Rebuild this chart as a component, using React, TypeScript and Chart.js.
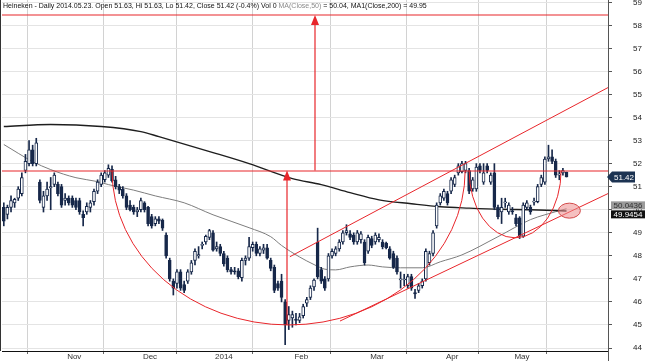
import React, { useEffect, useRef } from 'react';
import { Chart, registerables } from 'chart.js';

Chart.register(...registerables);

// ---- Daily OHLC (index 0 = 2013-10-09 ... index 156 = 2014-05-23) ----
const opens = [
  50.1, 49.8, 50.1, 50.3, 50.5, 50.7, 51.7, 52.0, 52.6, 52.0,
  51.2, 50.1, 50.6, 50.95, 51.1, 51.1, 51.0, 50.4, 50.5, 50.5,
  50.4, 50.4, 49.8, 49.9, 50.1, 50.35, 50.8, 51.1, 51.3, 51.5,
  51.75, 51.3, 51.0, 50.9, 50.6, 50.2, 50.1, 49.9, 50.0, 50.3,
  50.1, 49.7, 49.4, 49.6, 49.55, 48.9, 47.8, 46.9, 46.8, 47.3,
  46.75, 46.9, 47.3, 47.8, 48.0, 48.45, 48.6, 48.8, 49.0, 48.3,
  48.4, 48.1, 47.9, 47.4, 47.35, 47.35, 47.05, 47.8, 47.9, 48.35,
  48.5, 48.1, 48.25, 48.35, 47.8, 47.5, 46.8, 46.9, 46.0, 45.2,
  45.3, 45.25, 45.2, 45.4, 45.95, 46.2, 46.65, 48.6, 47.4, 47.0,
  47.0, 48.0, 48.1, 48.3, 48.6, 49.0, 48.95, 48.9, 48.6, 48.7,
  48.6, 48.2, 48.75, 48.6, 48.7, 48.6, 48.55, 48.3, 48.1, 47.9,
  46.95, 46.95, 46.7, 47.1, 46.4, 46.5, 46.7, 47.0, 47.7, 48.1,
  49.3, 50.3, 50.5, 50.7, 50.8, 51.1, 51.6, 51.65, 51.7, 51.7,
  50.9, 50.9, 51.9, 51.2, 51.9, 51.2, 51.6, 50.1, 49.9, 50.3,
  49.9, 49.95, 49.65, 49.65, 48.85, 50.1, 50.1, 50.33, 50.35, 51.1,
  51.2, 52.2, 52.3, 52.1, 51.5, 51.6, 51.63,
];
const highs = [
  50.3, 50.2, 50.6, 50.5, 51.0, 51.6, 52.4, 53.0, 52.8, 53.1,
  51.3, 50.8, 51.2, 51.4, 51.6, 51.2, 51.1, 50.7, 50.6, 50.6,
  50.5, 50.5, 49.95, 50.3, 50.4, 50.9, 51.3, 51.6, 51.7, 51.95,
  51.9, 51.45, 51.1, 51.0, 50.7, 50.4, 50.2, 50.1, 50.5, 50.35,
  50.15, 49.8, 49.7, 49.7, 49.6, 49.0, 47.9, 47.0, 47.4, 47.4,
  46.9, 47.4, 47.8, 48.3, 48.4, 48.6, 48.9, 49.15, 49.1, 48.6,
  48.5, 48.2, 48.0, 47.5, 47.5, 47.45, 47.9, 48.0, 48.8, 48.6,
  48.6, 48.4, 48.5, 48.5, 47.9, 47.6, 46.9, 47.2, 46.1, 45.8,
  45.6, 45.5, 45.5, 45.9, 46.2, 46.7, 47.0, 49.2, 47.5, 47.1,
  48.1, 48.3, 48.4, 48.7, 49.1, 49.35, 49.1, 49.0, 49.1, 49.05,
  48.7, 48.9, 48.85, 49.0, 48.95, 48.7, 48.6, 48.4, 48.2, 48.0,
  47.3, 47.2, 47.2, 47.2, 46.55, 46.8, 47.0, 48.3, 48.2, 49.1,
  50.3, 50.7, 50.9, 50.8, 51.4, 51.5, 52.0, 52.1, 52.1, 51.8,
  51.4, 52.0, 52.0, 52.0, 52.0, 51.6, 52.0, 50.2, 50.5, 50.5,
  50.3, 50.1, 49.8, 49.7, 50.3, 50.4, 50.2, 50.5, 51.1, 51.5,
  52.3, 52.8, 52.6, 52.2, 51.7, 51.8, 51.63,
];
const lows = [
  49.3, 49.6, 49.9, 50.1, 50.4, 50.6, 51.6, 51.9, 51.9, 51.9,
  50.3, 49.9, 50.4, 50.0, 51.0, 50.6, 50.1, 50.2, 50.2, 50.1,
  50.0, 49.8, 49.3, 49.8, 49.9, 50.2, 50.7, 51.0, 51.2, 51.4,
  51.2, 50.9, 50.7, 50.5, 50.0, 49.95, 49.8, 49.7, 49.9, 49.9,
  49.3, 49.2, 49.3, 49.4, 49.1, 47.9, 46.9, 46.3, 46.6, 46.5,
  46.4, 46.8, 47.2, 47.6, 47.9, 48.3, 48.5, 48.7, 48.2, 48.2,
  48.0, 47.55, 47.3, 47.2, 47.2, 47.0, 46.9, 47.6, 47.8, 48.2,
  48.0, 48.0, 48.1, 47.85, 47.35, 46.4, 46.5, 46.0, 44.15, 44.8,
  44.9, 45.0, 45.1, 45.3, 45.8, 46.1, 46.5, 47.0, 46.8, 46.5,
  46.9, 47.9, 48.0, 48.2, 48.5, 48.9, 48.7, 48.5, 48.5, 48.55,
  47.6, 48.1, 48.35, 48.5, 48.6, 48.3, 48.3, 47.85, 47.45, 47.2,
  46.6, 46.7, 46.6, 46.5, 46.15, 46.4, 46.6, 46.9, 47.6, 48.0,
  49.2, 50.2, 50.4, 50.2, 50.7, 51.0, 51.5, 51.6, 51.6, 50.7,
  50.8, 50.8, 51.6, 51.1, 51.6, 51.1, 50.0, 49.6, 49.4, 50.1,
  49.8, 49.8, 49.3, 48.75, 48.8, 50.0, 49.8, 50.2, 50.3, 51.0,
  51.1, 52.1, 52.0, 51.4, 51.3, 51.5, 51.42,
];
const closes = [
  49.5, 50.1, 50.4, 50.45, 50.9, 51.4, 52.1, 52.6, 52.0, 52.9,
  50.4, 50.6, 50.9, 51.0, 51.5, 50.7, 50.2, 50.5, 50.3, 50.2,
  50.1, 49.9, 49.65, 50.15, 50.3, 50.8, 51.2, 51.5, 51.6, 51.8,
  51.25, 51.0, 50.85, 50.6, 50.1, 50.0, 49.9, 50.0, 50.4, 50.0,
  49.4, 49.3, 49.6, 49.5, 49.2, 48.0, 47.0, 46.6, 47.3, 46.6,
  46.5, 47.3, 47.7, 48.2, 48.05, 48.5, 48.85, 49.1, 48.25, 48.4,
  48.1, 47.65, 47.4, 47.3, 47.3, 47.1, 47.8, 47.9, 48.4, 48.5,
  48.1, 48.3, 48.35, 47.9, 47.45, 46.5, 46.6, 46.2, 45.0, 45.45,
  45.45, 45.2, 45.35, 45.8, 46.1, 46.6, 46.95, 47.1, 46.9, 46.6,
  48.0, 48.2, 48.3, 48.6, 49.0, 49.1, 48.8, 48.6, 49.0, 48.95,
  47.7, 48.8, 48.45, 48.9, 48.8, 48.4, 48.35, 47.9, 47.5, 47.3,
  47.0, 46.95, 47.1, 46.6, 46.35, 46.7, 46.9, 48.2, 48.1, 49.0,
  50.2, 50.6, 50.8, 50.3, 51.3, 51.4, 51.9, 52.0, 52.0, 50.8,
  51.3, 51.85, 51.7, 51.6, 51.7, 51.5, 50.1, 49.7, 50.1, 50.32,
  50.2, 49.9, 49.4, 48.85, 50.2, 50.3, 49.9, 50.35, 51.0, 51.4,
  52.2, 52.3, 52.1, 51.5, 51.55, 51.7, 51.42,
];

// ---- Moving averages, read at selected trading-day indices ----
const ma50Points: [number, number][] = [
  [0, 52.83], [8, 52.09], [13, 51.74], [20, 51.39], [26, 51.22], [29, 51.09],
  [36, 50.85], [42, 50.6], [50, 50.3], [58, 49.78], [68, 49.22], [74, 48.83],
  [77, 48.45], [82, 47.95], [86, 47.62], [89, 47.42], [92, 47.39], [96, 47.52],
  [101, 47.6], [105, 47.52], [110, 47.48], [116, 47.48], [121, 47.74], [127, 48.04],
  [137, 48.83], [146, 49.57], [150, 49.78], [156, 50.0436],
];
const ma200Points: [number, number][] = [
  [0, 53.61], [13, 53.7], [27, 53.61], [38, 53.39], [43, 53.17], [58, 52.48],
  [68, 52.0], [80, 51.35], [88, 51.09], [96, 50.74], [104, 50.43], [113, 50.26],
  [121, 50.13], [129, 50.07], [138, 50.02], [146, 50.0], [156, 49.9454],
];

// ---- Axes ----
const monthTickIndex = [17, 38, 58, 80, 101, 122, 141];
const monthTickLabels = ['Nov', 'Dec', '2014', 'Feb', 'Mar', 'Apr', 'May'];
const priceTicks = [44, 45, 46, 47, 48, 49, 50, 51, 52, 53, 54, 55, 56, 57, 58, 59];
const xRange = [-0.5, 167.5];
const yRange = [43.87, 59.1];

// ---- Drawn annotations (index, price) ----
const resistanceLevel = 51.7;
const targetLevel = 58.45;
const upperChannel: [number, number][] = [[79.3, 47.96], [167.5, 55.3]];
const lowerChannel: [number, number][] = [[93.2, 45.17], [167.5, 50.7]];
const bigCup = { from: 30.0, to: 127.9, top: 51.7, bottom: 45.0 };
const smallCup = { from: 129.0, to: 154.5, top: 51.7, bottom: 48.78 };
const arrows = [
  { at: 78.5, from: 45.0, to: 51.7 },
  { at: 86.3, from: 51.7, to: 58.45 },
];
const highlight = { at: 156.8, price: 49.96 };

const lastClose = 51.42;
const ma50Last = 50.0436;
const ma200Last = 49.9454;
const titleParts = [
  { text: 'Heineken - Daily 2014.05.23. Open 51.63, Hi 51.63, Lo 51.42, Close 51.42 (-0.4%) Vol 0 ', color: '#111111' },
  { text: 'MA(Close,50)', color: '#8a8a8a' },
  { text: ' = 50.04, MA1(Close,200) = 49.95', color: '#111111' },
];

const NAVY = '#17284a';
const RED = '#e8262b';
const FONT = "'Liberation Sans', Arial, sans-serif";
const TITLE_FONT = "'Liberation Sans Narrow', 'Arial Narrow', 'Liberation Sans', Arial, sans-serif";

const overlayPlugin = {
  id: 'overlay',
  afterDatasetsDraw(chart: any) {
    const { ctx, chartArea: a, scales } = chart;
    const x = scales.x;
    const y = scales.y;
    const px = (v: number) => x.getPixelForValue(v);
    const py = (v: number) => y.getPixelForValue(v);
    ctx.save();
    ctx.beginPath();
    ctx.rect(a.left, a.top, a.right - a.left, a.bottom - a.top);
    ctx.clip();

    ctx.strokeStyle = RED;
    ctx.lineWidth = 1.2;
    [resistanceLevel, targetLevel].forEach((lv) => {
      const yy = Math.round(py(lv));
      ctx.beginPath();
      ctx.moveTo(a.left, yy);
      ctx.lineTo(a.right, yy);
      ctx.stroke();
    });
    ctx.lineWidth = 1;
    [upperChannel, lowerChannel].forEach((ln) => {
      ctx.beginPath();
      ctx.moveTo(px(ln[0][0]), py(ln[0][1]));
      ctx.lineTo(px(ln[1][0]), py(ln[1][1]));
      ctx.stroke();
    });
    [bigCup, smallCup].forEach((c) => {
      const x1 = px(c.from);
      const x2 = px(c.to);
      const yt = py(c.top);
      const yb = py(c.bottom);
      ctx.beginPath();
      ctx.ellipse((x1 + x2) / 2, yt, (x2 - x1) / 2, yb - yt, 0, 0, Math.PI);
      ctx.stroke();
    });
    ctx.fillStyle = RED;
    ctx.lineWidth = 1.2;
    arrows.forEach((ar) => {
      const xx = Math.round(px(ar.at));
      const y1 = py(ar.from);
      const y2 = py(ar.to);
      ctx.beginPath();
      ctx.moveTo(xx, y1);
      ctx.lineTo(xx, y2 + 8);
      ctx.stroke();
      ctx.beginPath();
      ctx.moveTo(xx, y2);
      ctx.lineTo(xx - 4, y2 + 10);
      ctx.lineTo(xx + 4, y2 + 10);
      ctx.closePath();
      ctx.fill();
    });
    ctx.lineWidth = 1;
    ctx.beginPath();
    ctx.ellipse(px(highlight.at), py(highlight.price), 11, 7.5, 0, 0, Math.PI * 2);
    ctx.fillStyle = 'rgba(236,140,140,0.55)';
    ctx.fill();
    ctx.strokeStyle = '#d24a4a';
    ctx.stroke();
    ctx.restore();
  },
  afterDraw(chart: any) {
    const { ctx, chartArea: a, scales } = chart;
    const y = scales.y;
    ctx.save();
    ctx.strokeStyle = '#333';
    ctx.lineWidth = 1;
    ctx.beginPath();
    ctx.moveTo(0.5, a.top);
    ctx.lineTo(0.5, a.bottom);
    ctx.stroke();
    ctx.strokeStyle = '#555';
    ctx.beginPath();
    ctx.moveTo(a.right + 0.5, 0);
    ctx.lineTo(a.right + 0.5, chart.height);
    ctx.stroke();

    // title, fitted to the reference's text width
    let fs = 8;
    ctx.font = `${fs}px ${TITLE_FONT}`;
    const full = titleParts.map((p) => p.text).join('');
    const w = ctx.measureText(full).width;
    fs = Math.min(8.6, (8 * 424) / w);
    ctx.font = `${fs}px ${TITLE_FONT}`;
    ctx.textBaseline = 'middle';
    ctx.textAlign = 'left';
    let tx = 3;
    titleParts.forEach((p) => {
      ctx.fillStyle = p.color;
      ctx.fillText(p.text, tx, 6);
      tx += ctx.measureText(p.text).width;
    });

    // price tags
    ctx.font = `8px ${FONT}`;
    ctx.textAlign = 'center';
    const bx = a.right + 3;
    const yc = y.getPixelForValue(lastClose);
    ctx.fillStyle = '#1c3352';
    ctx.beginPath();
    ctx.moveTo(a.right - 1, yc);
    ctx.lineTo(bx + 1, yc - 5.5);
    ctx.lineTo(bx + 24, yc - 5.5);
    ctx.lineTo(bx + 24, yc + 5.5);
    ctx.lineTo(bx + 1, yc + 5.5);
    ctx.closePath();
    ctx.fill();
    ctx.fillStyle = '#ffffff';
    ctx.fillText(String(lastClose.toFixed(2)), bx + 13, yc + 0.5);

    let y50 = y.getPixelForValue(ma50Last);
    let y200 = y.getPixelForValue(ma200Last);
    const h = 8;
    if (Math.abs(y200 - y50) < h) {
      const mid = (y50 + y200) / 2;
      y50 = mid - h / 2 - 0.5;
      y200 = mid + h / 2 + 0.5;
    }
    ctx.fillStyle = '#9a9a9a';
    ctx.fillRect(bx, y50 - h / 2, 645 - bx, h);
    ctx.fillStyle = '#303030';
    ctx.fillText(String(ma50Last), bx + 17, y50 + 0.5);
    ctx.fillStyle = '#111111';
    ctx.fillRect(bx, y200 - h / 2, 645 - bx, h);
    ctx.fillStyle = '#ffffff';
    ctx.fillText(String(ma200Last), bx + 17, y200 + 0.5);
    ctx.restore();
  },
};

export default function App() {
  const ref = useRef<HTMLCanvasElement>(null);
  useEffect(() => {
    if (!ref.current) return;
    const bodies = opens.map((o, i) => ({ x: i, y: [o, closes[i]] }));
    const wicks = lows.map((l, i) => ({ x: i, y: [l, highs[i]] }));
    const chart = new Chart(ref.current, {
      type: 'bar',
      data: {
        datasets: [
          {
            type: 'bar',
            label: 'body',
            data: bodies as any,
            backgroundColor: (c: any) => (closes[c.dataIndex] >= opens[c.dataIndex] ? '#ffffff' : NAVY),
            borderColor: NAVY,
            borderWidth: 1,
            borderSkipped: false,
            barThickness: 3,
            minBarLength: 1,
            grouped: false,
            order: 1,
          } as any,
          {
            type: 'bar',
            label: 'wick',
            data: wicks as any,
            backgroundColor: NAVY,
            borderWidth: 0,
            barThickness: 1,
            grouped: false,
            order: 2,
          } as any,
          {
            type: 'line',
            label: 'MA200',
            data: ma200Points.map(([i, v]) => ({ x: i, y: v })),
            borderColor: '#1e1e1e',
            borderWidth: 1.4,
            pointRadius: 0,
            cubicInterpolationMode: 'monotone',
            order: 3,
          } as any,
          {
            type: 'line',
            label: 'MA50',
            data: ma50Points.map(([i, v]) => ({ x: i, y: v })),
            borderColor: '#7d7d7d',
            borderWidth: 1,
            pointRadius: 0,
            cubicInterpolationMode: 'monotone',
            order: 4,
          } as any,
        ],
      },
      options: {
        responsive: false,
        animation: false,
        events: [],
        layout: { padding: { left: 2, right: 0, top: 0, bottom: 0 } },
        plugins: { legend: { display: false }, tooltip: { enabled: false }, title: { display: false } },
        scales: {
          x: {
            type: 'linear',
            position: 'bottom',
            min: xRange[0],
            max: xRange[1],
            offset: false,
            afterBuildTicks: (s: any) => {
              s.ticks = monthTickIndex.map((v) => ({ value: v }));
            },
            afterFit: (s: any) => {
              s.height = 10;
              s.paddingLeft = 0;
              s.paddingRight = 0;
            },
            grid: { color: '#d2d2d2', lineWidth: 1, drawTicks: true, tickLength: 3, tickColor: '#666' },
            border: { display: true, color: '#111', width: 1 },
            ticks: {
              autoSkip: false,
              maxRotation: 0,
              minRotation: 0,
              align: 'start',
              labelOffset: 2,
              padding: -2,
              color: '#333',
              font: { family: FONT, size: 8 },
              callback: (v: any) => {
                const k = monthTickIndex.indexOf(Number(v));
                return k >= 0 ? monthTickLabels[k] : '';
              },
            },
          },
          y: {
            type: 'linear',
            position: 'right',
            min: yRange[0],
            max: yRange[1],
            afterBuildTicks: (s: any) => {
              s.ticks = priceTicks.map((v) => ({ value: v }));
            },
            afterFit: (s: any) => {
              s.width = 37;
              s.paddingTop = 0;
              s.paddingBottom = 0;
            },
            grid: { color: '#e4e4e4', lineWidth: 1, drawTicks: true, tickLength: 4, tickColor: '#555' },
            border: { display: true, color: '#555', width: 1 },
            ticks: {
              padding: 21,
              color: '#222',
              font: { family: FONT, size: 8 },
              callback: (v: any) => String(v),
            },
          },
        },
      } as any,
      plugins: [overlayPlugin],
    });
    return () => chart.destroy();
  }, []);
  return (
    <div style={{ position: 'fixed', left: 0, top: 0, width: 645, height: 361, background: '#ffffff' }}>
      <canvas ref={ref} width={645} height={361} style={{ display: 'block' }} />
    </div>
  );
}
